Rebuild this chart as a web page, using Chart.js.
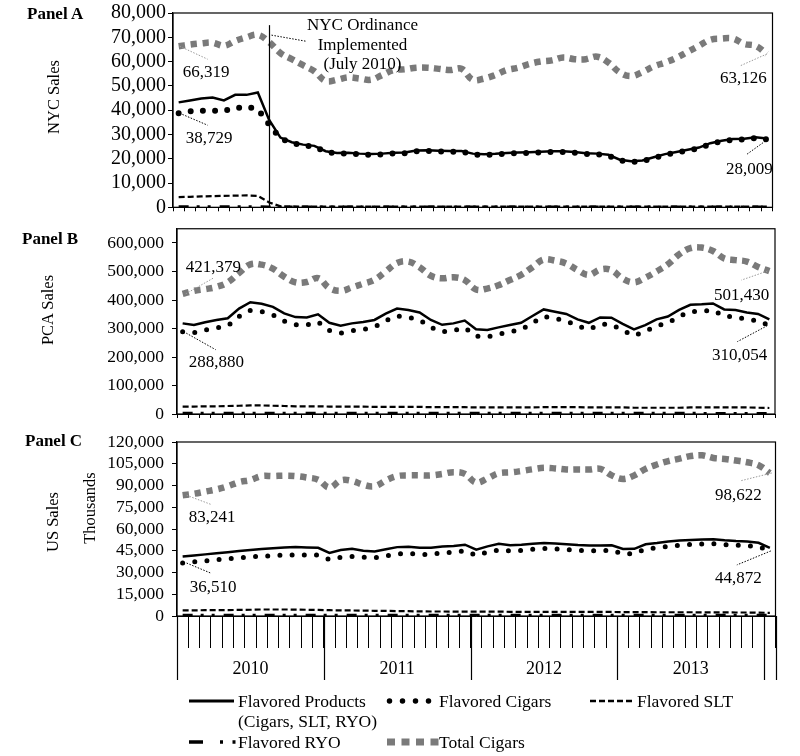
<!DOCTYPE html>
<html><head><meta charset="utf-8">
<script src="https://cdn.jsdelivr.net/npm/chart.js@4.4.1/dist/chart.umd.min.js"></script>
<style>
html,body{margin:0;padding:0;background:#fff;}
#wrap{position:relative;width:800px;height:756px;overflow:hidden;font-family:"Liberation Serif","Times New Roman",serif;color:#000;}
canvas{position:absolute;left:0;}
.lbl{position:absolute;white-space:nowrap;line-height:1;z-index:2;}
.panel{font-weight:bold;font-size:17px;}
.rot{transform:translate(-50%,-50%) rotate(-90deg);font-size:16.5px;}
.leg{position:absolute;font-size:17.5px;line-height:20px;white-space:nowrap;}
svg{position:absolute;left:0;top:0;overflow:visible;}
</style></head><body>
<div id="wrap">
<canvas id="cA" width="800" height="220" style="top:0;width:800px;height:220px"></canvas>
<canvas id="cB" width="800" height="205" style="top:220px;width:800px;height:205px"></canvas>
<canvas id="cC" width="800" height="265" style="top:425px;width:800px;height:265px"></canvas>

<div class="lbl panel" style="left:27px;top:5px">Panel A</div>
<div class="lbl panel" style="left:22px;top:230px">Panel B</div>
<div class="lbl panel" style="left:25px;top:432px">Panel C</div>
<div class="lbl rot" style="left:54px;top:97px">NYC Sales</div>
<div class="lbl rot" style="left:48px;top:310px">PCA Sales</div>
<div class="lbl rot" style="left:53px;top:522px">US Sales</div>
<div class="lbl rot" style="left:90px;top:508px">Thousands</div>

<svg width="800" height="756">
  <line x1="189" y1="701" x2="234" y2="701" stroke="#000" stroke-width="3"/>
  <line x1="389.5" y1="701" x2="430" y2="701" stroke="#000" stroke-width="5.5" stroke-linecap="round" stroke-dasharray="0 13"/>
  <line x1="590" y1="701" x2="635" y2="701" stroke="#000" stroke-width="2.5" stroke-dasharray="6 3"/>
  <line x1="189" y1="742" x2="236" y2="742" stroke="#000" stroke-width="3.5" stroke-dasharray="14 17 3 9.5 3 100"/>
  <line x1="387" y1="742" x2="441" y2="742" stroke="#7a7a7a" stroke-width="7" stroke-dasharray="8 6.5"/>
</svg>
<div class="leg" style="left:238px;top:691px">Flavored Products<br>(Cigars, SLT, RYO)</div>
<div class="leg" style="left:439px;top:691px">Flavored Cigars</div>
<div class="leg" style="left:637px;top:691px">Flavored SLT</div>
<div class="leg" style="left:238px;top:732px">Flavored RYO</div>
<div class="leg" style="left:439px;top:732px">Total Cigars</div>
</div>
<script>
// ---------- DATA ----------
const years = ['2010', '2011', '2012', '2013'];
const categories = [
 '2010-P01','2010-P02','2010-P03','2010-P04','2010-P05','2010-P06','2010-P07','2010-P08','2010-P09','2010-P10','2010-P11','2010-P12','2010-P13',
 '2011-P01','2011-P02','2011-P03','2011-P04','2011-P05','2011-P06','2011-P07','2011-P08','2011-P09','2011-P10','2011-P11','2011-P12','2011-P13',
 '2012-P01','2012-P02','2012-P03','2012-P04','2012-P05','2012-P06','2012-P07','2012-P08','2012-P09','2012-P10','2012-P11','2012-P12','2012-P13',
 '2013-P01','2013-P02','2013-P03','2013-P04','2013-P05','2013-P06','2013-P07','2013-P08','2013-P09','2013-P10','2013-P11','2013-P12','2013-P13',
 '2014-P01'
];
const seriesNames = ['Flavored Products (Cigars, SLT, RYO)', 'Flavored Cigars', 'Flavored SLT', 'Flavored RYO', 'Total Cigars'];

// Panel A: NYC
const nycProducts = [43200,44000,44800,45200,44000,46300,46300,47300,36000,28700,26800,25800,25300,23100,22400,22500,22100,21900,22100,22500,22600,23400,23500,23300,23200,23200,22100,21800,22000,22400,22600,22700,22900,23100,23100,22800,22300,22100,21600,19600,19000,19300,20600,21900,22800,23700,24600,26400,27400,28100,28200,28800,28300];
const nycCigars = [38729,39500,39800,39800,39700,40800,41300,40500,34000,28300,26500,25500,25000,22800,22100,22200,21800,21600,21800,22200,22300,23100,23200,23000,22900,22900,21800,21500,21700,22100,22300,22400,22600,22800,22800,22500,22000,21800,21300,19300,18700,19000,20300,21600,22500,23400,24300,26100,27100,27800,27900,28500,28009];
const nycSLT = [4200,4300,4500,4600,4700,4800,4900,4700,2000,400,350,320,300,300,300,280,280,300,300,300,300,300,290,290,280,280,300,300,300,300,290,290,280,280,280,270,270,270,260,260,260,260,250,250,250,250,260,260,250,250,250,250,240];
const nycRYO = [200,200,200,200,200,200,200,200,150,100,100,100,100,100,100,100,100,100,100,100,100,100,100,100,100,100,100,100,100,100,100,100,100,100,100,100,100,100,100,100,100,100,100,100,100,100,100,100,100,100,100,100,100];
const nycTotal = [66319,67000,67500,67800,66500,68500,70000,71000,68000,63500,61000,58500,56000,52000,52500,53500,53000,52500,54500,56500,56800,57500,57500,57000,56500,57000,52500,53000,54500,56500,57500,59000,60000,60500,61700,61000,61000,62000,59600,55500,54000,55700,58000,59600,61500,64000,66500,69000,69500,69500,67200,66500,63126];

// Panel B: PCA
const pcaProducts = [318000,312000,322000,330000,336000,370000,392000,387000,376000,353000,340000,339000,350000,320000,310000,318000,323000,330000,352000,370000,365000,356000,330000,313000,318000,328000,297000,295000,304000,312000,320000,344000,367000,359000,351000,332000,320000,339000,338000,316000,297000,312000,332000,342000,365000,383000,385000,388000,367000,365000,356000,351000,332000];
const pcaCigars = [288880,285000,295000,302000,309000,342000,363000,359000,348000,326000,313000,312000,323000,293000,284000,292000,297000,305000,327000,344000,339000,330000,304000,288000,293000,303000,273000,271000,280000,288000,296000,320000,342000,335000,327000,308000,297000,315000,314000,293000,275000,290000,309000,319000,342000,359000,361000,364000,343000,341000,332000,327000,310054];
const pcaSLT = [26000,26000,27000,27000,28000,29000,30000,30000,29000,28000,27000,27000,27000,26000,26000,26000,26000,25000,25000,25000,25000,25000,24000,24000,24000,24000,23000,23000,23000,23000,23000,23000,24000,24000,24000,24000,23000,23000,23000,23000,22000,22000,22000,22000,22000,23000,23000,23000,23000,23000,23000,22000,21000];
const pcaRYO = [2600,2600,2600,2700,2700,2800,2800,2800,2700,2700,2600,2600,2600,2500,2500,2500,2500,2500,2500,2500,2500,2400,2400,2400,2400,2400,2300,2300,2300,2300,2300,2300,2300,2300,2300,2300,2200,2200,2200,2200,2200,2200,2200,2200,2200,2200,2200,2100,2100,2100,2100,2100,2100];
const pcaTotal = [421379,432000,438000,446000,462000,495000,525000,524000,510000,482000,462000,463000,477000,442000,432000,444000,457000,471000,500000,530000,535000,515000,485000,476000,480000,470000,437000,440000,452000,470000,488000,515000,542000,538000,528000,505000,488000,507000,505000,475000,462000,478000,500000,525000,560000,582000,584000,572000,546000,540000,535000,516000,501430];

// Panel C: US (thousands)
const usProducts = [41000,41800,42500,43300,44000,44800,45500,46200,46800,47300,47500,47200,47000,43500,45500,46300,45000,44500,46000,47500,47800,47000,47000,48000,48200,49200,45800,48000,49800,48800,49200,49900,50300,50000,49500,49000,48700,48600,48800,46200,46300,49500,50300,51300,52000,52400,52800,52900,52200,51700,51400,50500,47000];
const usCigars = [36510,37300,38000,38800,39500,40200,40800,41300,41600,42000,42200,42000,42000,39000,40500,41000,40500,40200,41500,42800,43200,42500,42500,43500,44000,45000,41800,44000,45600,44800,45200,46000,46500,46200,45800,45300,45000,45000,45300,42800,43000,46200,47100,48000,48800,49300,49700,49800,49200,48800,48500,47800,44872];
const usSLT = [3900,3900,4000,4000,4100,4200,4300,4500,4500,4500,4400,4300,4200,4000,3900,3800,3700,3600,3500,3400,3300,3200,3100,3100,3000,3000,3000,3000,3000,2900,2900,2900,2900,2900,2900,2800,2800,2800,2800,2700,2700,2700,2600,2600,2600,2600,2500,2500,2500,2400,2400,2300,2200];
const usRYO = [600,600,600,600,600,600,600,600,600,600,600,600,600,550,550,550,550,550,550,550,550,550,550,550,550,550,500,500,500,500,500,500,500,500,500,500,500,500,500,450,450,450,450,450,450,450,450,450,450,450,450,450,450];
const usTotal = [83241,84300,85800,87300,89500,92300,93800,96500,96500,96800,96500,95500,94000,88600,93500,93200,90500,89500,93500,96500,97000,97000,97000,98000,99200,98000,92000,95000,98500,99000,100000,101200,102200,101800,101000,101000,101000,101500,97000,94500,97000,101500,104500,106800,108500,110300,110800,109000,108300,107200,106000,104000,98622];

// y-axis tick labels and axis ranges
const yTicksA = [0, 10000, 20000, 30000, 40000, 50000, 60000, 70000, 80000];
const yTicksB = [0, 100000, 200000, 300000, 400000, 500000, 600000];
const yTicksC = [0, 15000, 30000, 45000, 60000, 75000, 90000, 105000, 120000];
const yMaxA = 80000, yMaxB = 650000, yMaxC = 120000;
const ordinance = {index: 8, lines: ['NYC Ordinance', 'Implemented', '(July 2010)']};

// ---------- STYLE ----------
const FONT = '"Liberation Serif", "Times New Roman", serif';
Chart.defaults.font.family = FONT;
Chart.defaults.color = '#000';
const GRAY = '#7a7a7a';
const fmt = v => Number(v).toLocaleString('en-US');

function datasets(prod, cig, slt, ryo, tot, dotW) {
  return [
    {label: seriesNames[0], data: prod, borderColor: '#000', borderWidth: 2.5, tension: 0, order: 1},
    {label: seriesNames[1], data: cig, borderColor: '#000', borderWidth: dotW, borderDash: [0, 12.2], borderCapStyle: 'round', tension: 0, order: 0},
    {label: seriesNames[2], data: slt, borderColor: '#000', borderWidth: 2.2, borderDash: [6, 3], tension: 0, order: 2},
    {label: seriesNames[3], data: ryo, borderColor: '#000', borderWidth: 3, borderDash: [10, 8, 3, 8, 3, 9], tension: 0, order: 3},
    {label: seriesNames[4], data: tot, borderColor: GRAY, borderWidth: 6.5, borderDash: [6.5, 5.5], borderCapStyle: 'butt', tension: 0.4, order: 4}
  ];
}

// annotation specs (offsets relative to the data point)
const notes = {
  cA: [
    {ds: 4, idx: 0, l: [[1, 0], [29, 13]], t: [4, 26], align: 'left', c: '#9a9a9a'},
    {ds: 1, idx: 0, l: [[1, 0], [29, 12]], t: [7, 25], align: 'left', c: '#000'},
    {ds: 4, idx: 'last', l: [[0, 0], [-27, 12]], t: [0, 25], align: 'right', c: '#9a9a9a'},
    {ds: 1, idx: 'last', l: [[1, 0], [-20, 15]], t: [6, 30], align: 'right', c: '#000'}
  ],
  cB: [
    {ds: 4, idx: 0, l: [[3, 0], [31, -16]], t: [3, -26], align: 'left', c: '#9a9a9a'},
    {ds: 1, idx: 0, l: [[1, 0], [33, 18]], t: [6, 31], align: 'left', c: '#000'},
    {ds: 4, idx: 'last', l: [[-2, 0], [-28, 9]], t: [0, 24], align: 'right', c: '#9a9a9a'},
    {ds: 1, idx: 'last', l: [[-2, 0], [-32, 16]], t: [-2, 30], align: 'right', c: '#000'}
  ],
  cC: [
    {ds: 4, idx: 0, l: [[4, 0], [28, 9]], t: [6, 22], align: 'left', c: '#9a9a9a'},
    {ds: 1, idx: 0, l: [[4, 0], [28, 10]], t: [7, 24], align: 'left', c: '#000'},
    {ds: 4, idx: 'last', l: [[2, 0], [-30, 8]], t: [-8, 23], align: 'right', c: '#9a9a9a'},
    {ds: 1, idx: 'last', l: [[1, 0], [-33, 14]], t: [-8, 28], align: 'right', c: '#000'}
  ]
};

const boxPlugin = {
  id: 'box',
  beforeDatasetsDraw(chart) {
    const {ctx, chartArea: a} = chart;
    ctx.save();
    ctx.strokeStyle = '#000'; ctx.lineWidth = 1.2;
    ctx.strokeRect(a.left, a.top, a.right - a.left, a.bottom - a.top);
    ctx.restore();
  }
};

const notePlugin = {
  id: 'notes',
  afterDatasetsDraw(chart) {
    const list = notes[chart.canvas.id] || [];
    const {ctx} = chart;
    list.forEach(it => {
      const meta = chart.getDatasetMeta(it.ds);
      const data = chart.data.datasets[it.ds].data;
      const i = it.idx === 'last' ? data.length - 1 : it.idx;
      const el = meta.data[i];
      const x0 = el.x, y0 = el.y;
      ctx.save();
      ctx.strokeStyle = it.c; ctx.lineWidth = 1; ctx.setLineDash([1.5, 1.5]);
      ctx.beginPath();
      ctx.moveTo(x0 + it.l[0][0], y0 + it.l[0][1]);
      ctx.lineTo(x0 + it.l[1][0], y0 + it.l[1][1]);
      ctx.stroke();
      ctx.setLineDash([]);
      ctx.fillStyle = '#000';
      ctx.font = '17px ' + FONT;
      ctx.textAlign = it.align; ctx.textBaseline = 'middle';
      ctx.fillText(fmt(data[i]), x0 + it.t[0], y0 + it.t[1]);
      ctx.restore();
    });
  }
};

const ordinancePlugin = {
  id: 'ordinance',
  afterDatasetsDraw(chart) {
    const {ctx, chartArea: a, scales: {x, y}} = chart;
    const px = Math.round(x.getPixelForValue(ordinance.index)) + 0.5;
    const top = y.getPixelForValue(75000);
    ctx.save();
    ctx.strokeStyle = '#000'; ctx.lineWidth = 1.2;
    ctx.beginPath(); ctx.moveTo(px, top); ctx.lineTo(px, a.bottom); ctx.stroke();
    ctx.lineWidth = 1; ctx.setLineDash([1.5, 1.5]);
    ctx.beginPath(); ctx.moveTo(px + 2, top + 10); ctx.lineTo(px + 36, top + 16); ctx.stroke();
    ctx.setLineDash([]);
    ctx.fillStyle = '#000'; ctx.font = '17px ' + FONT;
    ctx.textAlign = 'center'; ctx.textBaseline = 'middle';
    ordinance.lines.forEach((t, k) => ctx.fillText(t, px + 93, top + 0.5 + k * 19.5));
    ctx.restore();
  }
};

const yearAxisPlugin = {
  id: 'yearAxis',
  afterDraw(chart) {
    const {ctx, chartArea: a, scales: {x}} = chart;
    const w = x.getPixelForValue(1) - x.getPixelForValue(0);
    const bounds = [0];
    years.forEach(yr => bounds.push(categories.filter(c => c.slice(0, 4) <= yr).length));
    bounds.push(categories.length);
    ctx.save(); ctx.strokeStyle = '#000'; ctx.lineWidth = 1.2;
    bounds.forEach(k => {
      const px = Math.round(x.getPixelForValue(k) - w / 2) + 0.5;
      ctx.beginPath(); ctx.moveTo(px, a.bottom); ctx.lineTo(px, a.bottom + 64); ctx.stroke();
    });
    ctx.restore();
  }
};

function makeChart(id, ds, tickVals, yMax, tickFont, opts) {
  const yScale = {
    min: 0, max: yMax,
    ticks: {autoSkip: false, font: {size: tickFont}, color: '#000', padding: opts.tickPad, callback: v => fmt(v)},
    afterBuildTicks: s => { s.ticks = tickVals.map(v => ({value: v})); },
    grid: {display: true, drawOnChartArea: false, drawTicks: true, tickLength: 5, color: '#000'},
    border: {display: true, color: '#000', width: 1.2},
    afterFit: s => { s.width = opts.yWidth; s.paddingTop = 0; s.paddingBottom = 0; }
  };
  const xScale = {
    type: 'category', offset: true,
    grid: {display: true, drawOnChartArea: false, drawTicks: true, tickLength: opts.tickLen, color: '#000', offset: true},
    border: {display: true, color: '#000'},
    ticks: opts.xTicks,
    afterFit: s => { s.height = opts.xHeight; s.paddingLeft = 0; s.paddingRight = 0; }
  };
  return new Chart(document.getElementById(id), {
    type: 'line',
    data: {labels: categories, datasets: ds},
    options: {
      responsive: false, animation: false, events: [],
      layout: {padding: {top: opts.padTop, right: opts.padRight, left: 0, bottom: 0}},
      elements: {point: {radius: 0}, line: {fill: false}},
      plugins: {legend: {display: false}, tooltip: {enabled: false}},
      scales: {x: xScale, y: yScale}
    },
    plugins: opts.plugins
  });
}

makeChart('cA', datasets(nycProducts, nycCigars, nycSLT, nycRYO, nycTotal, 6), yTicksA, yMaxA, 20,
  {yWidth: 173, padTop: 13, padRight: 27.5, xHeight: 12.7, tickLen: 4, tickPad: 2,
   xTicks: {display: false}, plugins: [boxPlugin, ordinancePlugin, notePlugin]});

makeChart('cB', datasets(pcaProducts, pcaCigars, pcaSLT, pcaRYO, pcaTotal, 5), yTicksB, yMaxB, 17.5,
  {yWidth: 177, padTop: 8.75, padRight: 25, xHeight: 11, tickLen: 4, tickPad: 8,
   xTicks: {display: false}, plugins: [boxPlugin, notePlugin]});

makeChart('cC', datasets(usProducts, usCigars, usSLT, usRYO, usTotal, 5), yTicksC, yMaxC, 17.5,
  {yWidth: 177, padTop: 17, padRight: 24.5, xHeight: 74, tickLen: 32, tickPad: 8,
   xTicks: {display: true, autoSkip: false, maxRotation: 0, minRotation: 0, padding: 10, font: {size: 18}, color: '#000',
     callback: (v, i) => (categories[i].endsWith('P07') && years.includes(categories[i].slice(0, 4))) ? categories[i].slice(0, 4) : ''},
   plugins: [boxPlugin, notePlugin, yearAxisPlugin]});
</script>
</body></html>
